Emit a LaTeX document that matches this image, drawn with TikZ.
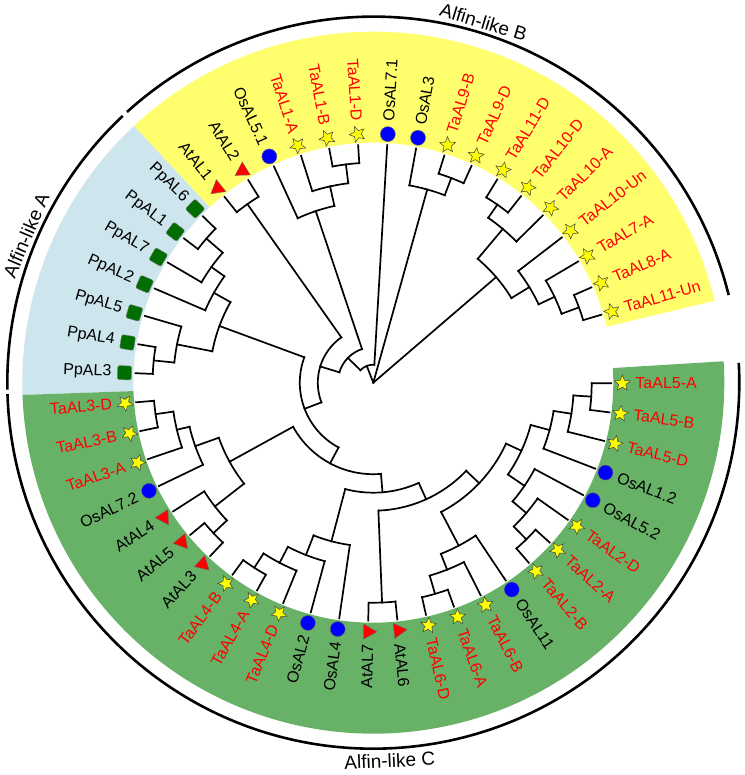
\documentclass[tikz,border=0pt]{standalone}
\usepackage{fontspec}
\setmainfont{Liberation Sans}
\usetikzlibrary{shapes.geometric}
\definecolor{bandB}{RGB}{255,255,110}
\definecolor{bandA}{RGB}{205,229,237}
\definecolor{bandC}{RGB}{104,178,104}
\definecolor{starY}{RGB}{255,255,0}
\definecolor{osBlue}{RGB}{0,0,255}
\definecolor{ppGreen}{RGB}{0,110,0}
\definecolor{atRed}{RGB}{255,0,0}
\tikzset{
  branch/.style={line width=1.7pt,line cap=rect},
  grpline/.style={line width=2.6pt},
  leaf/.style={font=\fontsize{16}{19}\selectfont,inner sep=0pt},
  grp/.style={font=\fontsize{19}{22}\selectfont,inner sep=0pt},
  mkStar/.style={star,star points=5,star point ratio=2.2,minimum size=16.5pt,inner sep=0pt,fill=starY,draw=black!75,line width=0.5pt},
  mkOs/.style={circle,minimum size=15pt,inner sep=0pt,fill=osBlue,draw=black!60,line width=0.4pt},
  mkPp/.style={rectangle,rounded corners=2pt,minimum size=14pt,inner sep=0pt,fill=ppGreen,draw=black!50,line width=0.4pt},
  mkAt/.style={regular polygon,regular polygon sides=3,minimum size=17.5pt,inner sep=0pt,fill=atRed,draw=black!60,line width=0.4pt}
}
\begin{document}
\begin{tikzpicture}[x=1pt,y=1pt]
  \useasboundingbox (-373.3,-392.3) rectangle (370.7,382.7);
  % coloured bands
  \fill[bandB] (13.5:240) arc[start angle=13.5,end angle=133,radius=240pt] -- (133:351) arc[start angle=133,end angle=13.5,radius=351pt] -- cycle;
  \fill[bandA] (133:240) arc[start angle=133,end angle=182,radius=240pt] -- (182:351) arc[start angle=182,end angle=133,radius=351pt] -- cycle;
  \fill[bandC] (182:240) arc[start angle=182,end angle=363.5,radius=240pt] -- (363.5:351) arc[start angle=363.5,end angle=182,radius=351pt] -- cycle;
  % group arcs
  \draw[grpline] (13.85:366) arc[start angle=13.85,end angle=132.3,radius=366pt];
  \draw[grpline] (133.2:366) arc[start angle=133.2,end angle=181.1,radius=366pt];
  \draw[grpline] (181.8:366) arc[start angle=181.8,end angle=363.1,radius=366pt];
  \node[grp,rotate=-17,anchor=south] (grpB) at (73:370) {Alfin-like B};
  \node[grp,rotate=67,anchor=south] (grpA) at (157:370) {Alfin-like A};
  \node[grp,rotate=2.5,anchor=north] (grpC) at (272.5:371) {Alfin-like C};
  % inner nodes: name / radius / first child / last child / parent radius
  \foreach \nm/\r/\a/\b/\pr in {
    Ne/219/16.6/23.61/200.5, Nd/200.5/20.105/30.61/183, Nc/183/25.36/37.62/162,
    Nf/217/51.63/58.63/201, Na/201/44.62/55.13/162, Nb/162/31.49/49.875/0,
    Ng/219/65.64/72.64/200.6, Nh/200.6/69.14/79.65/0, Pa/18/86.65/135.76/0,
    Ni/220/93.66/100.66/201, Nj/201/97.16/107.67/181, Nk/181/102.415/114.67/35.5,
    Pb/35.5/108.54/162.98/18, Nl/218.5/121.68/128.68/55.5, Pc/55.5/125.18/200.785/35.5,
    Pd/73.5/159.77/241.8/55.5,
    Nm/220.5/135.69/142.69/199, Nn/199/139.19/149.7/183, No/183/144.445/156.7/164,
    Np/220.7/170.71/177.72/200, Nq/200/163.71/174.215/164, Nr/164/150.57/168.96/73.5,
    Pe/91.5/208.8/274.8/73.5,
    Ns/220/184.72/191.73/202, Nt/202/188.225/198.73/189, Nu/189/193.48/205.74/164,
    Nv/219.5/219.75/226.75/201, Nw/201/212.74/223.25/164, Nx/164/199.61/218/91.5,
    Pf/110/255.21/294.39/91.5,
    Ny/220/233.76/240.76/203, Nz/203/237.26/247.77/185, Oa/185/242.515/254.77/164,
    Ob/164/248.64/261.78/110, Pg/128/272.285/316.5/110, Oc/220/268.78/275.79/128,
    Ph/146/297.68/335.33/128,
    Od/220/282.79/289.8/201, Oe/201/286.295/296.8/184, Of/184/291.55/303.81/146,
    Og/219/310.81/317.82/201, Oh/201/314.315/324.82/183, Oi/183/319.57/331.83/163,
    Oj/218.4/352.84/359.85/200.5, Ok/200.5/345.84/356.345/182.5, Ol/182.5/338.83/351.09/163,
    Om/163/325.7/344.96/146} {
    \pgfmathsetmacro\m{(\a+\b)/2}
    \coordinate (\nm) at (\m:\r);
    \draw[branch] (\a:\r) arc[start angle=\a,end angle=\b,radius=\r pt];
    \draw[branch] (\nm) -- (\m:\pr);
  }
  % leaves: label / colour / marker / parent radius
  \foreach \lab/\tc/\mk/\pr [count=\j from 0] in {
    TaAL11-Un/atRed/mkStar/219, TaAL8-A/atRed/mkStar/219, TaAL7-A/atRed/mkStar/200.5,
    TaAL10-Un/atRed/mkStar/183, TaAL10-A/atRed/mkStar/201, TaAL10-D/atRed/mkStar/217,
    TaAL11-D/atRed/mkStar/217, TaAL9-D/atRed/mkStar/219, TaAL9-B/atRed/mkStar/219,
    OsAL3/black/mkOs/200.6, OsAL7.1/black/mkOs/18, TaAL1-D/atRed/mkStar/220,
    TaAL1-B/atRed/mkStar/220, TaAL1-A/atRed/mkStar/201, OsAL5.1/black/mkOs/181,
    AtAL2/black/mkAt/218.5, AtAL1/black/mkAt/218.5,
    PpAL6/black/mkPp/220.5, PpAL1/black/mkPp/220.5, PpAL7/black/mkPp/199,
    PpAL2/black/mkPp/183, PpAL5/black/mkPp/200, PpAL4/black/mkPp/220.7, PpAL3/black/mkPp/220.7,
    TaAL3-D/atRed/mkStar/220, TaAL3-B/atRed/mkStar/220, TaAL3-A/atRed/mkStar/202,
    OsAL7.2/black/mkOs/189, AtAL4/black/mkAt/201, AtAL5/black/mkAt/219.5, AtAL3/black/mkAt/219.5,
    TaAL4-B/atRed/mkStar/220, TaAL4-A/atRed/mkStar/220, TaAL4-D/atRed/mkStar/203,
    OsAL2/black/mkOs/185, OsAL4/black/mkOs/164, AtAL7/black/mkAt/220, AtAL6/black/mkAt/220,
    TaAL6-D/atRed/mkStar/220, TaAL6-A/atRed/mkStar/220, TaAL6-B/atRed/mkStar/201,
    OsAL11/black/mkOs/184, TaAL2-B/atRed/mkStar/219, TaAL2-A/atRed/mkStar/219,
    TaAL2-D/atRed/mkStar/201, OsAL5.2/black/mkOs/183, OsAL1.2/black/mkOs/182.5,
    TaAL5-D/atRed/mkStar/200.5, TaAL5-B/atRed/mkStar/218.4, TaAL5-A/atRed/mkStar/218.4} {
    \pgfmathsetmacro\th{16.6+7.005*\j}
    \draw[branch] (\th:238) -- (\th:\pr);
    \node[\mk,rotate=\th] (m\j) at (\th:249) {};
    \pgfmathtruncatemacro\lside{(\th>90)&&(\th<270)}
    \ifnum\lside=1
      \node[leaf,text=\tc,rotate=\th-180,anchor=east] (l\j) at (\th:262) {\lab};
    \else
      \node[leaf,text=\tc,rotate=\th,anchor=west] (l\j) at (\th:262) {\lab};
    \fi
  }
\end{tikzpicture}
\end{document}
